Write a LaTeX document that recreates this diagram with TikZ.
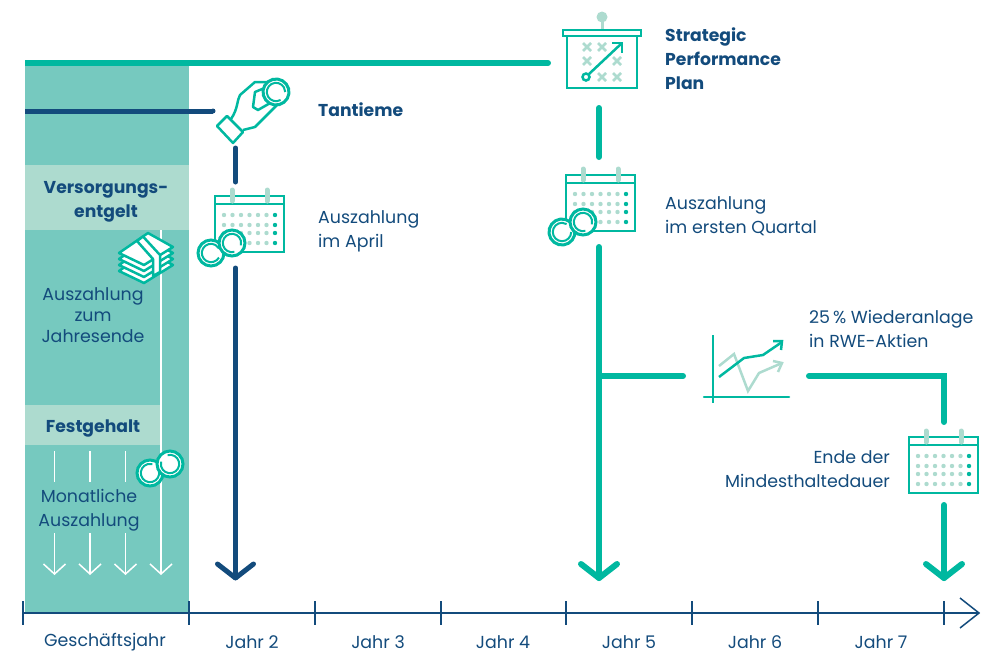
\documentclass[tikz,border=0pt]{standalone}
\usepackage{fontspec}
\setmainfont{Poppins}
\usetikzlibrary{arrows.meta}
\definecolor{rwegreen}{HTML}{00B8A0}
\definecolor{rwenavy}{HTML}{134B7C}
\definecolor{bandteal}{HTML}{76C9BF}
\definecolor{boxmint}{HTML}{ADDBCF}
\tikzset{
  caption/.style={text=rwenavy,font=\fontsize{17.4}{24}\selectfont,align=left,inner sep=0pt},
  headline/.style={caption,font=\fontsize{17.2}{24}\selectfont\bfseries},
  icon/.style={draw=rwegreen,line width=2.5pt},
  soft/.style={draw=boxmint,line width=2.5pt},
  navyline/.style={draw=rwenavy,line width=5pt,line cap=round},
  greenline/.style={draw=rwegreen,line width=6pt,line cap=round},
  whiteline/.style={draw=white,line width=1.5pt},
  pics/calendar/.style={code={
    \draw[icon,fill=white] (0,0) rectangle (69,56);
    \draw[icon] (0,8) -- (69,8);
    \draw[boxmint,line width=5pt,line cap=round] (17,-6) -- (17,5) (52,-6) -- (52,5);
    \foreach \rowy in {19,29,37,47}{
      \foreach \colx in {9,17.5,26,34.5,43,51.5}
        \fill[boxmint] (\colx,\rowy) circle (2.2);
      \fill[rwegreen] (60,\rowy) circle (2.2);
    }
  }},
  pics/coin/.style={code={
    \draw[icon,fill=white,line width=3pt] (0,0) circle (13);
    \draw[icon,line width=2pt] (30:9.2) arc (30:330:9.2);
  }}
}
\def\arrowdown#1#2#3{\draw[#3,line join=round] (#1-18,#2-14) -- (#1,#2) -- (#1+18,#2-14);}
\begin{document}
\begin{tikzpicture}[x=1pt,y=-1pt]
\useasboundingbox (0,0) rectangle (988,670);
% band
\fill[bandteal] (25,63) rectangle (189,613);
\fill[boxmint] (25,165) rectangle (189,230);
\fill[boxmint] (25,405) rectangle (160,445);
% white arrows
\foreach \colx in {54.5,90,125.5}{
  \draw[whiteline] (\colx,451) -- (\colx,482);
  \draw[whiteline] (\colx,533) -- (\colx,574);
  \draw[whiteline] (\colx-11,564) -- (\colx,574) -- (\colx+11,564);
}
\draw[whiteline] (161,230) -- (161,574);
\draw[whiteline] (150,564) -- (161,574) -- (172,564);
% axis
\coordinate (axisstart) at (23,613);
\coordinate (axisend) at (979,613);
\draw[rwenavy,line width=1.5pt] (axisstart) -- (axisend);
\draw[rwenavy,line width=1.5pt] (960,598) -- (979,613) -- (960,628);
\foreach \tickx in {23,189,315,441,566,692,818,944}
  \draw[rwenavy,line width=1.5pt] (\tickx,601) -- (\tickx,625);
\node[caption] (year1) at (105,642) {Geschäftsjahr};
\node[caption] (year2) at (252,642) {Jahr 2};
\node[caption] (year3) at (378,642) {Jahr 3};
\node[caption] (year4) at (503,642) {Jahr 4};
\node[caption] (year5) at (629,642) {Jahr 5};
\node[caption] (year6) at (755,642) {Jahr 6};
\node[caption] (year7) at (881,642) {Jahr 7};
% connectors
\coordinate (planstart) at (25,63);
\coordinate (planend) at (548,63);
\coordinate (bonusstart) at (25,111);
\coordinate (bonusend) at (213,111);
\draw[greenline,line cap=butt] (planstart) -- (planend);
\fill[rwegreen] (planend) circle (3);
\draw[navyline,line cap=butt] (bonusstart) -- (bonusend);
\fill[rwenavy] (bonusend) circle (2.5);
\coordinate (bonusa) at (235.5,148);
\coordinate (bonusb) at (235.5,182);
\coordinate (bonusc) at (235.5,268);
\coordinate (bonusd) at (235.5,578);
\draw[navyline] (bonusa) -- (bonusb);
\draw[navyline] (bonusc) -- (bonusd);
\arrowdown{235.5}{578}{navyline}
\coordinate (plana) at (599,108);
\coordinate (planb) at (599,157);
\coordinate (planc) at (599,247);
\coordinate (pland) at (599,578);
\coordinate (branch) at (599,376);
\coordinate (brancha) at (683,376);
\coordinate (branchb) at (809,376);
\coordinate (corner) at (944,376);
\coordinate (branchc) at (944,422);
\coordinate (endtop) at (944,505);
\coordinate (endbottom) at (944,578);
\draw[greenline] (plana) -- (planb);
\draw[greenline] (planc) -- (pland);
\arrowdown{599}{578}{greenline}
\draw[greenline] (branch) -- (brancha);
\draw[greenline,line join=miter] (branchb) -- (corner) -- (branchc);
\draw[greenline] (endtop) -- (endbottom);
\arrowdown{944}{578}{greenline}
% calendars
\path (215,196) pic {calendar};
\path (211,253) pic {coin};
\path (232,243) pic[rotate=-45] {coin};
\path (566,175) pic {calendar};
\path (562,232) pic[rotate=30] {coin};
\path (583,222) pic[rotate=-45] {coin};
\path (909,437) pic {calendar};
% coins
\path (150,473) pic[rotate=45] {coin};
\path (170,464) pic[rotate=135] {coin};
% hand
\draw[icon,fill=white,line join=round] (217,126) -- (227,116) -- (243,132) -- (233,143) -- cycle;
\draw[icon,line join=round] (231,119) .. controls (238,109) and (237,100) .. (240,95) -- (255,82) -- (273,82);
\draw[icon,line join=round] (243,130) -- (255,127) -- (280,102);
\draw[icon,line join=round] (267,87) -- (255,92) -- (253,107) -- (258,110) -- (272,102);
\path (276,92) pic[rotate=-30] {coin};
% money stack
\foreach \layer in {18,12,6,0}
  \draw[icon,fill=white,line join=round] (119,{253+\layer}) -- (148,{233+\layer}) -- (173,{247+\layer}) -- (144,{265+\layer}) -- cycle;
\draw[icon,fill=white,line join=round] (137,241) -- (143,236.5) -- (160,255) -- (160,272) -- (153,276) -- (153,259) -- cycle;
% plan board
\draw[boxmint,line width=3pt] (602,17) -- (602,29);
\fill[boxmint] (602,17) circle (5.5);
\draw[icon,fill=white] (567,33) rectangle (637,88);
\draw[icon,fill=white] (563,30) rectangle (641,36);
\foreach \crossx/\crossy in {587/47,602/47,587/61,617/61,602/77,617/77}
  \draw[soft] (\crossx-4,\crossy-4) -- (\crossx+4,\crossy+4) (\crossx-4,\crossy+4) -- (\crossx+4,\crossy-4);
\draw[icon] (589,74) -- (622,43);
\draw[icon] (612,43) -- (622,43) -- (622,53);
\draw[icon] (586,77) circle (3.5);
% chart
\draw[soft] (719,366) -- (734,354) -- (748,391) -- (759,373) -- (782,363);
\draw[soft] (773,361) -- (782,363) -- (778,372);
\draw[icon] (713,335) -- (713,403);
\draw[icon,line cap=round] (704,397) -- (789,397);
\draw[icon] (719,377) -- (744,358) -- (763,355) -- (782,342);
\draw[icon] (773,341) -- (782,341) -- (781,350);
% labels
\node[headline,anchor=west] (bonustext) at (318,110) {Tantieme};
\node[headline,anchor=north west] (plantext) at (665,28) {Strategic\\Performance\\Plan};
\node[caption,anchor=north west] (aprilpay) at (318,210) {Auszahlung\\im April};
\node[caption,anchor=north west] (quarterpay) at (665,196) {Auszahlung\\im ersten Quartal};
\node[caption,anchor=north west] (reinvest) at (809,310) {25\,\% Wiederanlage\\in RWE-Aktien};
\node[caption,anchor=north east,align=right] (holdend) at (890,450) {Ende der\\Mindesthaltedauer};
\node[headline,align=center] (pensionbox) at (106,202) {Versorgungs-\\entgelt};
\node[caption,align=center,anchor=north,font=\fontsize{17.4}{21}\selectfont] (yearend) at (93,287) {Auszahlung\\zum\\Jahresende};
\node[headline] (fixedbox) at (93,428) {Festgehalt};
\node[caption,align=center,anchor=north] (monthly) at (89,489) {Monatliche\\Auszahlung};
\end{tikzpicture}
\end{document}
